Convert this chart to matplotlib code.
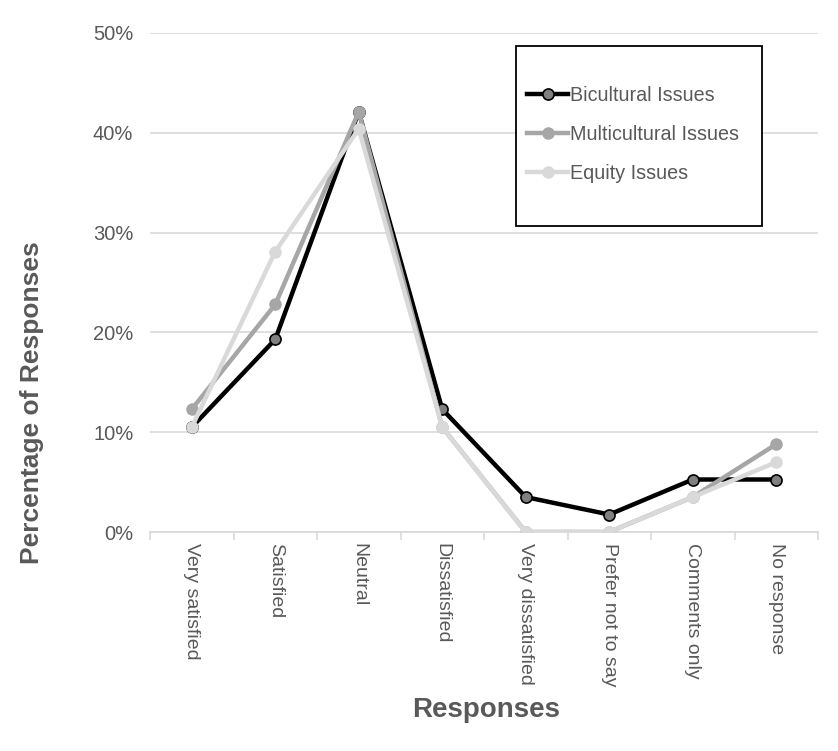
import matplotlib.pyplot as plt
from matplotlib.patches import Rectangle
from matplotlib.ticker import FuncFormatter

categories = ['Very satisfied', 'Satisfied', 'Neutral', 'Dissatisfied',
              'Very dissatisfied', 'Prefer not to say', 'Comments only', 'No response']
bicultural = [10.5, 19.3, 42.1, 12.3, 3.5, 1.75, 5.26, 5.26]
multicultural = [12.3, 22.8, 42.1, 10.5, 0.0, 0.0, 3.5, 8.8]
equity = [10.5, 28.1, 40.4, 10.5, 0.0, 0.0, 3.5, 7.0]

txt = '#595959'
plt.rcParams['font.family'] = ['Liberation Sans', 'DejaVu Sans']

fig = plt.figure(figsize=(8.38, 7.51), dpi=100)
ax = fig.add_axes([150 / 838, 1 - 532 / 751, 668 / 838, 499 / 751])

x = list(range(len(categories)))
ax.plot(x, bicultural, color='black', lw=3.2, marker='o', ms=8,
        mfc='#808080', mec='black', mew=1.2, label='Bicultural Issues', zorder=3)
ax.plot(x, multicultural, color='#a6a6a6', lw=3.2, marker='o', ms=8,
        mfc='#a6a6a6', mec='#a6a6a6', label='Multicultural Issues', zorder=4)
ax.plot(x, equity, color='#d9d9d9', lw=3.2, marker='o', ms=8,
        mfc='#d9d9d9', mec='#d9d9d9', label='Equity Issues', zorder=5)

ax.set_xlim(-0.5, len(categories) - 0.5)
ax.set_ylim(0, 50)
ax.set_yticks([0, 10, 20, 30, 40, 50])
ax.yaxis.set_major_formatter(FuncFormatter(lambda v, p: '%d%%' % v))
ax.yaxis.grid(True, color='#d9d9d9', lw=1.2)
ax.set_axisbelow(True)

ax.set_xticks(x)
ax.set_xticklabels(categories, rotation=270, color=txt, fontsize=14)
ax.set_xticks([i - 0.5 for i in range(len(categories) + 1)], minor=True)
ax.tick_params(axis='x', which='major', length=0, pad=8)
ax.tick_params(axis='x', which='minor', length=6, color='#d9d9d9', width=1.2)
ax.tick_params(axis='y', length=0, labelcolor=txt, labelsize=14.5, pad=12)

for s in ['left', 'right', 'top']:
    ax.spines[s].set_visible(False)
ax.spines['bottom'].set_color('#d9d9d9')
ax.spines['bottom'].set_linewidth(1.2)

fig.text(32 / 838, 1 - 403 / 751, 'Percentage of Responses', rotation=90,
         ha='center', va='center', fontsize=19, fontweight='bold', color=txt)
fig.text(486 / 838, 1 - 710 / 751, 'Responses', ha='center', va='center',
         fontsize=20, fontweight='bold', color=txt)

ax.add_patch(Rectangle((516 / 838, 1 - 226 / 751), 246 / 838, 180 / 751,
                       transform=fig.transFigure, fill=True, fc='white',
                       ec='black', lw=1.3, zorder=6, clip_on=False))
leg = ax.legend(loc='center left', bbox_to_anchor=(527 / 838, 1 - 134.5 / 751),
                bbox_transform=fig.transFigure, frameon=False, fontsize=14.2,
                handlelength=2.1, handletextpad=0.1, labelspacing=1.02,
                borderpad=0, borderaxespad=0)
for t in leg.get_texts():
    t.set_color(txt)
leg.set_zorder(7)

fig.savefig('out.png', dpi=100, facecolor='white')
